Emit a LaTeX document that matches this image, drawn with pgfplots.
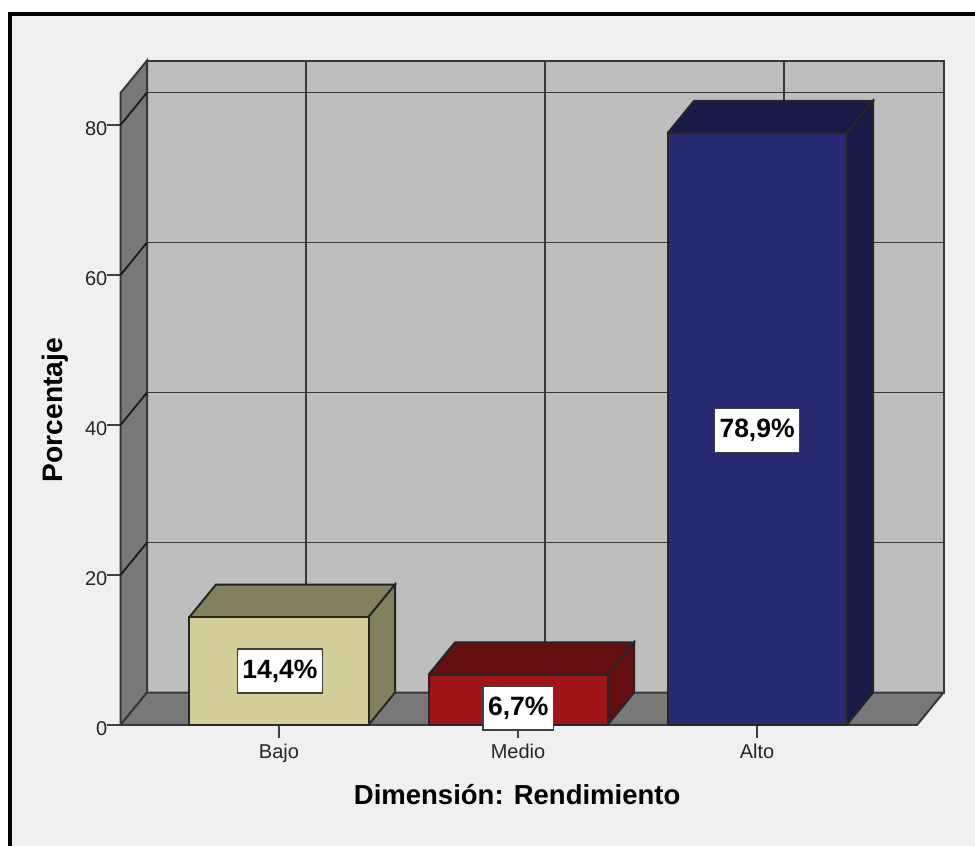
\documentclass[border=0pt]{standalone}
\usepackage{fontspec}
\setmainfont{Liberation Sans}
\usepackage{pgfplots}
\pgfplotsset{compat=1.18}
\definecolor{panel}{HTML}{F0F0F0}
\definecolor{wallback}{HTML}{BEBEBE}
\definecolor{wallside}{HTML}{787878}
\definecolor{gridline}{HTML}{383838}
\definecolor{bajoF}{HTML}{D3CE97}
\definecolor{bajoD}{HTML}{83805D}
\definecolor{medioF}{HTML}{9F1518}
\definecolor{medioD}{HTML}{640E10}
\definecolor{altoF}{HTML}{282A73}
\definecolor{altoD}{HTML}{181A47}
\begin{document}
\begin{tikzpicture}[x=1pt,y=1pt]
% page and outer panel with its black frame
\path[use as bounding box,fill=white] (0,0) rectangle (975,846);
\fill[black] (8,0) rectangle (975,833.5);
\fill[panel] (12,0) rectangle (975,830);
\begin{axis}[
  at={(120.5pt,121pt)}, anchor=south west,
  scale only axis, width=796.5pt, height=632pt,
  xmin=-0.663, xmax=2.669, ymin=0, ymax=84.27,
  clip=false,
  axis x line=bottom, axis y line=left,
  axis line style={-, black!90, line width=2pt},
  x axis line style={-}, y axis line style={-},
  xtick={0,1,2}, xticklabels={Bajo,Medio,Alto},
  ytick={0,20,40,60,80},
  tick align=outside, major tick length=13pt,
  tick style={black!75, line width=2pt},
  /pgf/number format/assume math mode=true,
  tick label style={text=black!85, font=\fontsize{20}{22}\selectfont},
  yticklabel style={yshift=-3.5pt, xshift=1pt, inner sep=1pt},
  xticklabel style={yshift=-4pt, inner sep=2pt},
  xlabel={Dimensión: Rendimiento},
  ylabel={Porcentaje},
  label style={anchor=center},
  xlabel style={font=\fontsize{27.5}{30}\selectfont\bfseries, at={(axis description cs:0.498,-0.1108)}},
  ylabel style={font=\fontsize{28.2}{30}\selectfont\bfseries, at={(axis description cs:-0.0825,0.498)}},
]
% side wall, back wall and floor of the box
\addplot[fill=wallback, draw=gridline, line width=2pt] coordinates {(-0.5521,4.33) (2.7799,4.33) (2.7799,88.6) (-0.5521,88.6) (-0.5521,4.33)};
\addplot[fill=wallside, draw=gridline, line width=2pt] coordinates {(-0.663,0) (-0.5521,4.33) (-0.5521,88.6) (-0.663,84.27) (-0.663,0)};
\addplot[fill=wallside, draw=gridline, line width=2pt] coordinates {(-0.663,0) (2.669,0) (2.7799,4.33) (-0.5521,4.33) (-0.663,0)};
% grid on the back wall
\addplot[gridline, line width=1.8pt] coordinates {(-0.5521,24.33) (2.7799,24.33)};
\addplot[gridline, line width=1.8pt] coordinates {(-0.5521,44.33) (2.7799,44.33)};
\addplot[gridline, line width=1.8pt] coordinates {(-0.5521,64.33) (2.7799,64.33)};
\addplot[gridline, line width=1.8pt] coordinates {(-0.5521,84.33) (2.7799,84.33)};
\addplot[gridline, line width=1.8pt] coordinates {(0.113,4.33) (0.113,88.6)};
\addplot[gridline, line width=1.8pt] coordinates {(1.113,4.33) (1.113,88.6)};
\addplot[gridline, line width=1.8pt] coordinates {(2.113,4.33) (2.113,88.6)};
% grid on the side wall
\addplot[black!90, line width=1.8pt] coordinates {(-0.663,20) (-0.5521,24.33)};
\addplot[black!90, line width=1.8pt] coordinates {(-0.663,40) (-0.5521,44.33)};
\addplot[black!90, line width=1.8pt] coordinates {(-0.663,60) (-0.5521,64.33)};
\addplot[black!90, line width=1.8pt] coordinates {(-0.663,80) (-0.5521,84.33)};
% Bajo
\addplot[fill=bajoD, draw=black!85, line width=2pt] coordinates {(-0.3745,14.4) (0.3745,14.4) (0.4854,18.73) (-0.2636,18.73) (-0.3745,14.4)};
\addplot[fill=bajoD, draw=black!85, line width=2pt] coordinates {(0.3745,0) (0.4854,4.33) (0.4854,18.73) (0.3745,14.4) (0.3745,0)};
\addplot[fill=bajoF, draw=black!85, line width=2pt] coordinates {(-0.3745,0) (0.3745,0) (0.3745,14.4) (-0.3745,14.4) (-0.3745,0)};
% Medio
\addplot[fill=medioD, draw=black!85, line width=2pt] coordinates {(0.6255,6.7) (1.3745,6.7) (1.4854,11.03) (0.7364,11.03) (0.6255,6.7)};
\addplot[fill=medioD, draw=black!85, line width=2pt] coordinates {(1.3745,0) (1.4854,4.33) (1.4854,11.03) (1.3745,6.7) (1.3745,0)};
\addplot[fill=medioF, draw=black!85, line width=2pt] coordinates {(0.6255,0) (1.3745,0) (1.3745,6.7) (0.6255,6.7) (0.6255,0)};
% Alto
\addplot[fill=altoD, draw=black!85, line width=2pt] coordinates {(1.6255,78.9) (2.3745,78.9) (2.4854,83.23) (1.7364,83.23) (1.6255,78.9)};
\addplot[fill=altoD, draw=black!85, line width=2pt] coordinates {(2.3745,0) (2.4854,4.33) (2.4854,83.23) (2.3745,78.9) (2.3745,0)};
\addplot[fill=altoF, draw=black!85, line width=2pt] coordinates {(1.6255,0) (2.3745,0) (2.3745,78.9) (1.6255,78.9) (1.6255,0)};
% value labels
\addplot[draw=none, mark=none, point meta=explicit symbolic,
  nodes near coords={\pgfplotspointmeta},
  every node near coord/.style={anchor=center, fill=white, draw=black!75, line width=1.2pt,
    inner xsep=5pt, inner ysep=0pt, minimum height=44pt, text=black,
    font=\fontsize{26.5}{30}\selectfont\bfseries}]
  coordinates {(0.004,7.2) [14,4\%] (1.001,2.27) [6,7\%] (2,39.3) [78,9\%]};
\end{axis}
\end{tikzpicture}
\end{document}
